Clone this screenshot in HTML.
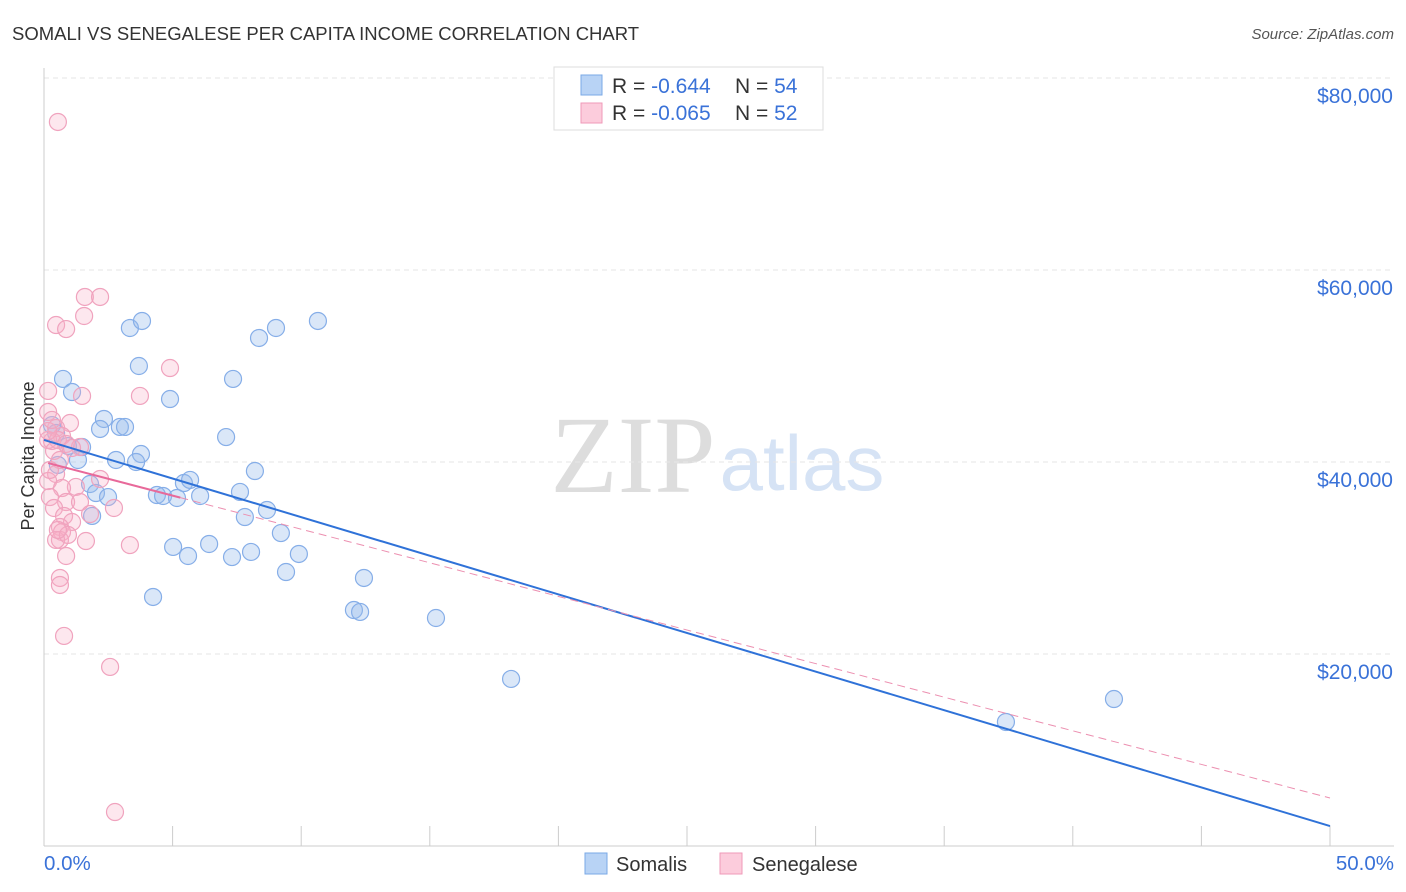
<!DOCTYPE html>
<html><head><meta charset="utf-8"><style>
body{margin:0;background:#fff;font-family:"Liberation Sans",sans-serif;}
svg{display:block}
</style></head><body>
<svg id="chart" width="1406" height="892">
<text x="12" y="40" font-size="18.5" fill="#333">SOMALI VS SENEGALESE PER CAPITA INCOME CORRELATION CHART</text>
<text x="1394" y="39" font-size="15" fill="#555" font-style="italic" text-anchor="end">Source: ZipAtlas.com</text>
<text x="633" y="492" font-size="110" fill="#ddd" text-anchor="middle" font-family="Liberation Serif,serif">ZIP</text>
<text x="802" y="490" font-size="78" fill="#d6e3f5" text-anchor="middle">atlas</text>
<text x="34" y="456" font-size="18" fill="#333" text-anchor="middle" transform="rotate(-90 34 456)">Per Capita Income</text>
<g id="grid"></g><g id="marks"></g><g id="lines"></g>
<g>
<rect x="554" y="67" width="269" height="63" fill="#fff" stroke="#ddd"/>
<rect x="581" y="75" width="21" height="20" fill="#b8d3f5" stroke="#7aa8e6"/>
<rect x="581" y="103" width="21" height="20" fill="#fcccdc" stroke="#ef9ab8"/>
<text x="612" y="93" font-size="21" fill="#333">R = <tspan fill="#3a72d8">-0.644</tspan></text>
<text x="735" y="93" font-size="21" fill="#333">N = <tspan fill="#3a72d8">54</tspan></text>
<text x="612" y="120" font-size="21" fill="#333">R = <tspan fill="#3a72d8">-0.065</tspan></text>
<text x="735" y="120" font-size="21" fill="#333">N = <tspan fill="#3a72d8">52</tspan></text>
</g>
<g>
<rect x="585" y="853" width="22" height="21" fill="#b8d3f5" stroke="#7aa8e6"/>
<text x="616" y="871" font-size="20" fill="#333">Somalis</text>
<rect x="720" y="853" width="22" height="21" fill="#fcccdc" stroke="#ef9ab8"/>
<text x="752" y="871" font-size="20" fill="#333">Senegalese</text>
</g>
<text x="44" y="870" font-size="20.5" fill="#3a72d8">0.0%</text>
<text x="1394" y="870" font-size="20.5" fill="#3a72d8" text-anchor="end">50.0%</text>
</svg>
<script>
const yTicks=[20000,40000,60000,80000];
const yTickLabels=["$20,000","$40,000","$60,000","$80,000"];
const somaliX=[0.74,1.09,2.33,2.18,2.95,3.15,3.77,2.80,3.58,1.32,0.54,1.48,0.93,1.79,2.02,2.49,1.87,3.34,3.81,3.69,4.90,4.39,4.63,5.17,5.44,5.68,6.07,5.02,5.60,6.42,4.24,7.08,7.35,8.36,9.02,10.65,8.20,7.62,7.81,8.67,9.21,7.31,8.05,9.91,9.41,12.44,12.05,12.29,15.24,18.16,37.40,41.60,0.31,0.47];
const somaliY=[48650,47290,44480,43440,43650,43650,40830,40210,40000,40210,39690,41560,41670,37710,36770,36350,34380,53960,54690,50000,46560,36560,36460,36250,37810,38130,36460,31150,30210,31460,25940,42600,48650,52920,53960,54690,39060,36880,34270,35000,32600,30100,30630,30420,28540,27920,24580,24380,23750,17400,12920,15310,43850,43020];
const senX=[0.54,1.59,2.18,1.56,0.47,0.86,4.90,0.16,1.48,3.73,0.16,1.01,0.47,0.70,0.31,0.16,0.54,0.86,1.40,0.39,0.47,0.16,2.18,1.24,0.70,0.23,0.86,1.40,2.72,0.39,0.78,1.09,1.79,0.62,0.70,0.62,0.47,1.63,3.34,0.86,0.62,0.62,0.78,2.57,2.76,0.16,0.31,0.62,1.09,0.23,0.93,0.54];
const senY=[75420,57190,57190,55210,54270,53850,49790,47400,46880,46880,45210,44060,43540,42710,42190,42290,42290,41880,41560,41150,38750,38020,38230,37400,37290,36350,35830,35830,35210,35210,34380,33750,34580,33230,32710,31880,31880,31770,31350,30210,27920,27190,21880,18650,3540,43230,44380,40210,41460,39170,32400,32920];
const somaliTrend=[42300,2080];
const senTrend=[40000,5000];
const X=v=>44+v/50*1286, Y=v=>846-v/20000*192;
const NS='http://www.w3.org/2000/svg';
function mk(t,a,p){const e=document.createElementNS(NS,t);for(const k in a)e.setAttribute(k,a[k]);document.getElementById(p).appendChild(e);return e;}
yTicks.forEach((t,i)=>{
 const g=mk('line',{x1:44,x2:1394,y1:Y(t),y2:Y(t),stroke:'#e6e6e6','stroke-dasharray':'5,4'},'grid');
 
 
 const l=mk('text',{x:1393,y:Y(t)+25,'font-size':21,fill:'#3a72d8','text-anchor':'end'},'grid');
 l.textContent=yTickLabels[i];
 
 
});
mk('line',{x1:44,x2:44,y1:68,y2:846,stroke:'#ccc'},'grid');
mk('line',{x1:44,x2:1394,y1:846,y2:846,stroke:'#ccc'},'grid');
for(let i=1;i<=10;i++){const t=mk('line',{x1:X(i*5),x2:X(i*5),y1:826,y2:846,stroke:'#ccc'},'grid');
 
 }
somaliX.forEach((x,i)=>{const c=mk('circle',{cx:X(x),cy:Y(somaliY[i]),r:8.5,fill:'rgba(150,185,235,0.35)',stroke:'#86aee8','stroke-width':1.2},'marks');
 
 });
senX.forEach((x,i)=>{const c=mk('circle',{cx:X(x),cy:Y(senY[i]),r:8.5,fill:'rgba(248,175,200,0.3)',stroke:'#f0a3be','stroke-width':1.2},'marks');
 
 });
const sl=mk('line',{x1:X(0),y1:Y(somaliTrend[0]),x2:X(50),y2:Y(somaliTrend[1]),stroke:'#2f72d8','stroke-width':2},'lines');


const pv=x=>senTrend[0]+(senTrend[1]-senTrend[0])*x/50;
const pd=mk('line',{x1:X(5.3),y1:Y(pv(5.3)),x2:X(50),y2:Y(pv(50)),stroke:'#ec8fb0','stroke-width':1,'stroke-dasharray':'8,5'},'lines');


const ps=mk('line',{x1:X(0.16),y1:Y(pv(0.16)),x2:X(5.3),y2:Y(pv(5.3)),stroke:'#e8699a','stroke-width':2},'lines');


</script>
</body></html>
